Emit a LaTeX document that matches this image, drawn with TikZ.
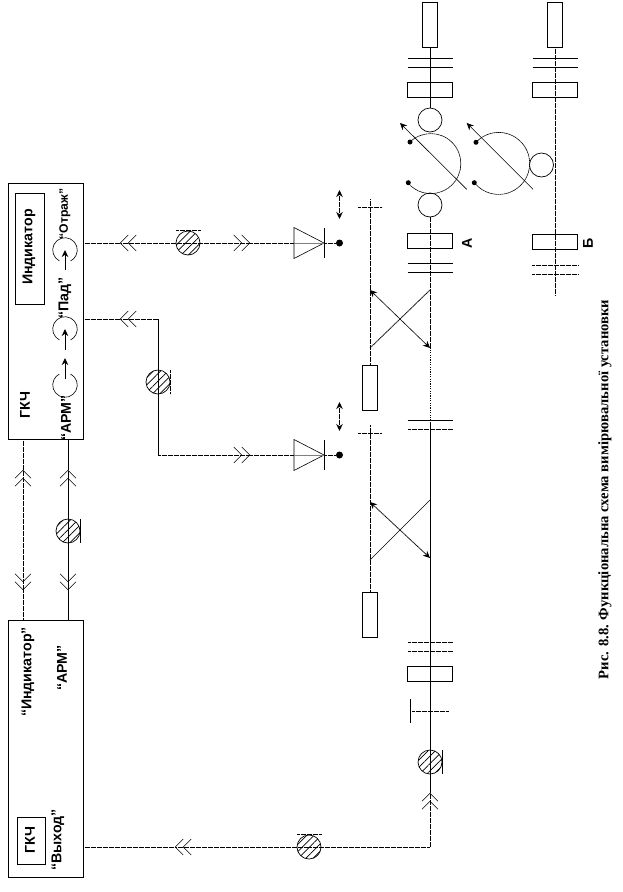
\documentclass[tikz,border=0pt]{standalone}
\usepackage{fontspec}
\setmainfont{Liberation Sans}
\newfontfamily\capfont{Liberation Serif}
\usetikzlibrary{arrows.meta,patterns.meta}
\tikzset{
    wire/.style={line width=0.9pt},
    dotwire/.style={line width=0.9pt, dash pattern=on 0.7pt off 0.5pt},
    thinline/.style={line width=0.6pt},
    unit/.style={draw, line width=0.9pt, inner sep=0, minimum width=#1},
    hatched/.style={circle, draw, line width=0.7pt, inner sep=0, minimum size=24pt,
        pattern={Lines[angle=45,distance=5.2pt,line width=0.7pt]}},
    plain/.style={circle, draw, line width=0.7pt, inner sep=0, minimum size=24pt},
    spot/.style={circle, fill=black, inner sep=0, minimum size=#1},
    spot/.default=5pt,
    label/.style={rotate=90, font=\bfseries\fontsize{14.2}{15}\selectfont, inner sep=0},
    smalllabel/.style={rotate=90, font=\bfseries\fontsize{12.2}{13}\selectfont, inner sep=0},
    chev/.tip={Straight Barb[length=8pt,width=16pt,sep=-0.5pt,line width=0.5pt,round]
        Straight Barb[length=8pt,width=16pt,line width=0.5pt,round]},
    small/.tip={Stealth[length=7pt,width=6.5pt]}
}
\begin{document}
\begin{tikzpicture}[x=1pt,y=-1pt]
    \useasboundingbox (0,0) rectangle (623,892);

    % Outer units
    \node[unit=75pt, minimum height=256pt] (gen) at (45.5,311) {};
    \node[unit=75pt, minimum height=257pt] (meter) at (45.5,748.5) {};
    \node[unit=29pt, minimum height=111pt] (ind) at (30,248.5) {};
    \node[unit=28pt, minimum height=47pt] (gensmall) at (31,840.5) {};

    % Labels
    \node[label] (tind) at (29,247) {Индикатор};
    \node[label] (tgen) at (25,405) {ГКЧ};
    \node[label] (tgens) at (30,840) {ГКЧ};
    \node[label] (tarm) at (66,418) {“АРМ”};
    \node[label] (tpad) at (65,298) {“Пад”};
    \node[smalllabel] (tref) at (65,214) {“Отраж”};
    \node[label] (tindq) at (28,672) {“Индикатор”};
    \node[label] (tarmq) at (62,668) {“АРМ”};
    \node[label] (tout) at (58,840) {“Выход”};
    \node[label] (ta) at (467,243) {А};
    \node[label] (tb) at (588,243) {Б};
    \node[rotate=90, font=\capfont\bfseries\fontsize{14.6}{15}\selectfont, inner sep=0] (caption)
        at (605,489.5) {Рис. 8.8. Функціональна схема вимірювальної установки};

    % Selector switches in the generator
    \draw[thinline] (65,385) ++(-63:12.3) arc[start angle=-63,end angle=243,radius=12.3];
    \draw[thinline] (65,329) ++(117:12.3) arc[start angle=117,end angle=423,radius=12.3];
    \draw[thinline] (65,250) ++(117:12.3) arc[start angle=117,end angle=423,radius=12.3];
    \foreach \x/\ya/\yb in {65/379/358, 65/350/329, 65/270/250} {
        \draw[wire, -{small}] (\x,\ya) -- (\x,\yb);
    }

    % Hatched attenuators
    \foreach \name/\x/\y in {ha/188/243, hb/158/382, hc/68/531, hd/309/847, he/430/762} {
        \node[hatched] (\name) at (\x,\y) {};
    }
    \draw[dotwire] ([xshift=-12pt]ha.north) -- ([xshift=13pt]ha.north);
    \draw[dotwire] ([yshift=12pt]hb.east) -- ([yshift=-12pt]hb.east);
    \draw[wire] ([yshift=12pt]hc.east) -- ([yshift=-12pt]hc.east);
    \draw[dotwire] ([xshift=-12pt]hd.north) -- ([xshift=13pt]hd.north);
    \draw[wire] ([yshift=12pt]he.east) -- ([yshift=-12pt]he.east);

    % Detectors
    \foreach \name/\y in {da/243, db/455} {
        \coordinate (\name-base) at (294,\y);
        \coordinate (\name-tip) at (324,\y);
        \node[spot=7pt] (\name-dot) at (339.5,\y) {};
        \draw[thinline] (294,\y-15.5) -- (\name-tip) -- (294,\y+15.5) -- cycle;
        \draw[wire] (324.3,\y-15) -- (324.3,\y+15);
        \draw[wire, gray] (\name-base) -- (\name-tip);
        \draw[dotwire] (\name-tip) -- (\name-dot);
        \draw[dotwire, {small}-{small}] (339.5,\y-53) -- (339.5,\y-24);
    }

    % Lines between the units
    \coordinate (c1) at (120,243);
    \coordinate (c2) at (250,243);
    \coordinate (c3) at (120,319);
    \coordinate (c4) at (158,319);
    \coordinate (c5) at (158,455);
    \coordinate (c6) at (250,455);
    \draw[dotwire] (gen.east |- c1) -- (c1);
    \draw[dotwire, -{chev}] (ha.center) -- (c1);
    \draw[dotwire, -{chev}] (ha.center) -- (c2);
    \draw[dotwire] (c2) -- (da-base);
    \draw[dotwire] (gen.east |- c3) -- (c3);
    \draw[dotwire, -{chev}] (c4) -- (c3);
    \draw[wire] (c4) -- (c5);
    \draw[dotwire, -{chev}] (c5) -- (c6);
    \draw[dotwire] (c6) -- (db-base);

    \coordinate (c7) at (23,470);
    \coordinate (c8) at (23,590);
    \coordinate (c9) at (68,470);
    \coordinate (c10) at (68,590);
    \draw[dotwire] (c7 |- gen.south) -- (c7);
    \draw[dotwire, {chev}-{chev}] (c7) -- (c8);
    \draw[dotwire] (c8) -- (c8 |- meter.north);
    \draw[wire] (c9 |- gen.south) -- (c9);
    \draw[wire, -{chev}] (hc.center) -- (c9);
    \draw[wire, -{chev}] (hc.center) -- (c10);
    \draw[wire] (c10) -- (c10 |- meter.north);

    \coordinate (c11) at (175,847);
    \coordinate (corner) at (430,847);
    \coordinate (c12) at (430,793);
    \draw[dotwire] (meter.east |- c11) -- (c11);
    \draw[dotwire, -{chev}] (hd.center) -- (c11);
    \draw[dotwire] (hd.center) -- (corner);
    \draw[dotwire, -{chev}] (corner) -- (c12);

    % Main waveguide
    \foreach \name/\x/\y/\w/\h in {ra/370/387.5/15.5/45, rb/370/614.5/15.5/45, rc/430/673.5/45/15,
        rd/430/240.5/45.5/15, re/430/89.5/45.5/15, rf/430/24.5/15/45,
        rg/555/24.5/15/45, rh/555/89.5/45.5/15, ri/555/242/45.5/15} {
        \node[unit=\w pt, minimum height=\h pt] (\name) at (\x,\y) {};
    }
    \coordinate (m1) at (430,423);
    \coordinate (m2) at (430,348);
    \draw[wire] (c12) -- (m1);
    \draw[dotwire, dash pattern=on 1.2pt off 1.2pt] (m1) -- (m2);
    \draw[dotwire] (m2) -- (430,217);
    \draw[wire] (rf.south) -- (430,108);
    \draw[dotwire] (rg.south) -- (555,295);
    \draw[dotwire] (rb.north) -- (370,425);
    \draw[dotwire] (ra.north) -- (370,199);
    \draw[dotwire] (358,433) -- (381,433);
    \draw[dotwire] (358,207) -- (382,207);

    % Cross slots
    \draw[thinline] (370,560) -- (430,500);
    \draw[dotwire, {small}-{small}] (370,502) -- (430,558);
    \draw[dotwire] (370,348) -- (430,290);
    \draw[thinline, {small}-{small}] (370,290) -- (430,348);

    % Short bars across the lines
    \foreach \y in {642, 651, 429} {
        \draw[dotwire] (408,\y) -- (453,\y);
    }
    \foreach \y in {420, 263, 272, 58, 67} {
        \draw[wire] (407.5,\y) -- (453,\y);
    }
    \foreach \y in {58, 67} {
        \draw[wire] (532.5,\y) -- (578,\y);
    }
    \foreach \y in {265, 274} {
        \draw[dotwire] (532,\y) -- (578,\y);
    }
    \draw[wire] (410,699) -- (410,723);
    \draw[dotwire] (412,711) -- (449,711);

    % Movable loads
    \node[plain] (la) at (430,120) {};
    \node[plain] (lb) at (430,205) {};
    \node[plain] (lc) at (541.5,165) {};
    \node[spot] (sa) at (410,142) {};
    \node[spot] (sb) at (408.3,182.7) {};
    \node[spot] (sc) at (476,142.3) {};
    \node[spot] (sd) at (474.3,182.7) {};
    \draw[thinline, dash pattern=on 1.6pt off 0.4pt] (sa.center) arc[start angle=-134,end angle=138,radius=30];
    \draw[thinline, dash pattern=on 1.6pt off 0.4pt] (sc.center) arc[start angle=-137,end angle=141,radius=31];
    \draw[thinline, -{small}] (466.7,189.3) -- (400,123);
    \draw[thinline, -{small}] (533,189.3) -- (466.7,123);
\end{tikzpicture}
\end{document}
